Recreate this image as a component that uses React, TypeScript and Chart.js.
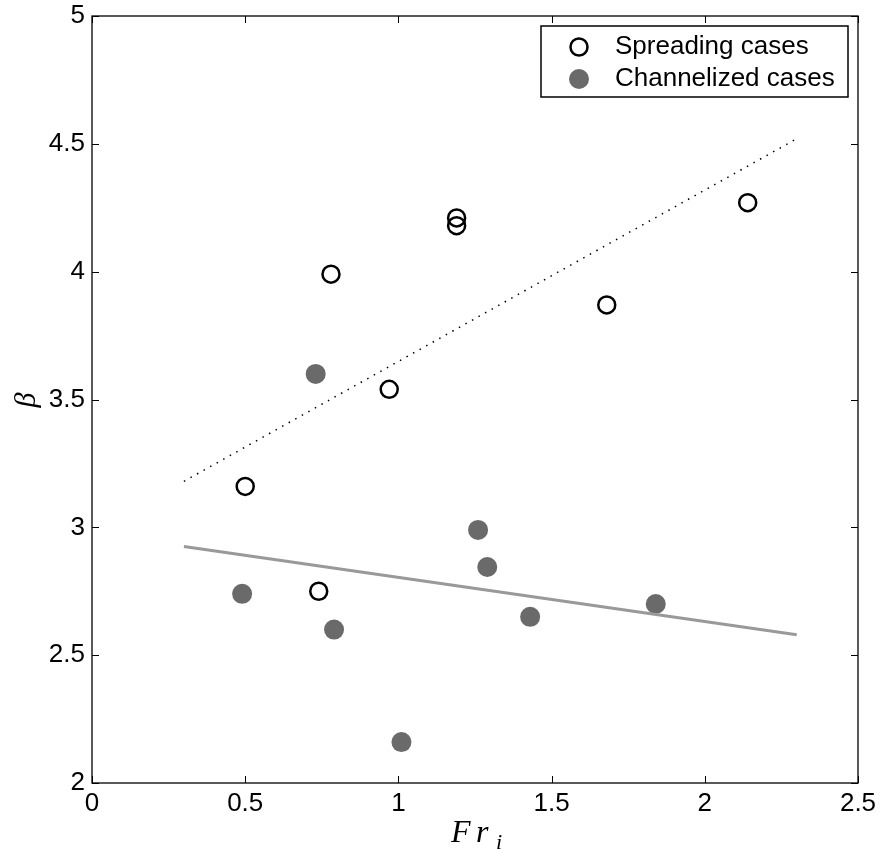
import React, { useEffect, useRef } from "react";
import { Chart, registerables } from "chart.js";

Chart.register(...registerables);

const spreadingX = [0.5, 0.74, 0.78, 0.97, 1.19, 1.19, 1.68, 2.14];
const spreadingY = [3.16, 2.75, 3.99, 3.54, 4.21, 4.18, 3.87, 4.27];
const channelX = [0.49, 0.73, 0.79, 1.01, 1.26, 1.29, 1.43, 1.84];
const channelY = [2.74, 3.6, 2.6, 2.16, 2.99, 2.845, 2.65, 2.7];
const fitSpreadX = [0.3, 2.3];
const fitSpreadY = [3.18, 4.52];
const fitChannelX = [0.3, 2.3];
const fitChannelY = [2.925, 2.58];
const xTicks = [0, 0.5, 1, 1.5, 2, 2.5];
const yTicks = [2, 2.5, 3, 3.5, 4, 4.5, 5];
const seriesLabels = ["Spreading cases", "Channelized cases"];

const FONT = '"Liberation Sans", Arial, Helvetica, sans-serif';
const SERIF = '"Liberation Serif", "DejaVu Serif", serif';

const zip = (xs: number[], ys: number[]) => xs.map((x, i) => ({ x, y: ys[i] }));

const framePlugin = {
  id: "frame",
  afterDraw(chart: any) {
    const { ctx, chartArea: a, scales } = chart;
    const xs = scales.x;
    const ys = scales.y;
    ctx.save();
    ctx.strokeStyle = "#000";
    ctx.lineWidth = 1.3;
    ctx.strokeRect(a.left, a.top, a.right - a.left, a.bottom - a.top);
    const tl = 7;
    ctx.lineWidth = 1;
    ctx.beginPath();
    xTicks.forEach((v) => {
      const px = Math.round(xs.getPixelForValue(v)) + 0.5;
      ctx.moveTo(px, a.bottom);
      ctx.lineTo(px, a.bottom - tl);
      ctx.moveTo(px, a.top);
      ctx.lineTo(px, a.top + tl);
    });
    yTicks.forEach((v) => {
      const py = Math.round(ys.getPixelForValue(v)) + 0.5;
      ctx.moveTo(a.left, py);
      ctx.lineTo(a.left + tl, py);
      ctx.moveTo(a.right, py);
      ctx.lineTo(a.right - tl, py);
    });
    ctx.stroke();

    // legend
    const lx = 541, ly = 26, lw = 307, lh = 71;
    ctx.fillStyle = "#fff";
    ctx.fillRect(lx, ly, lw, lh);
    ctx.lineWidth = 1.5;
    ctx.strokeStyle = "#000";
    ctx.strokeRect(lx, ly, lw, lh);
    ctx.font = `26px ${FONT}`;
    ctx.textBaseline = "middle";
    ctx.textAlign = "left";
    ctx.fillStyle = "#000";
    ctx.beginPath();
    ctx.arc(579, 47, 8.5, 0, Math.PI * 2);
    ctx.lineWidth = 2.5;
    ctx.strokeStyle = "#000";
    ctx.stroke();
    ctx.fillText(seriesLabels[0], 615, 47);
    ctx.beginPath();
    ctx.arc(579, 79, 10, 0, Math.PI * 2);
    ctx.fillStyle = "#6a6a6a";
    ctx.fill();
    ctx.fillStyle = "#000";
    ctx.fillText(seriesLabels[1], 615, 79);

    // axis titles
    ctx.font = `italic 32px ${SERIF}`;
    ctx.textBaseline = "alphabetic";
    ctx.fillText("F", 451, 842);
    ctx.fillText("r", 476, 842);
    ctx.font = `italic 22px ${SERIF}`;
    ctx.fillText("i", 496, 849);

    ctx.save();
    ctx.translate(27, 400);
    ctx.rotate(-Math.PI / 2);
    ctx.font = `italic 30px ${SERIF}`;
    ctx.textAlign = "center";
    ctx.textBaseline = "middle";
    ctx.fillText("β", 0, 0);
    ctx.restore();
    ctx.restore();
  },
};

export default function App() {
  const ref = useRef<HTMLCanvasElement>(null);
  useEffect(() => {
    document.body.style.margin = "0";
    const chart = new Chart(ref.current!, {
      type: "scatter",
      data: {
        datasets: [
          {
            label: "fit spreading",
            data: zip(fitSpreadX, fitSpreadY),
            showLine: true,
            borderColor: "#000",
            borderWidth: 1.5,
            borderDash: [1.5, 6],
            pointRadius: 0,
            order: 0,
          } as any,
          {
            label: "fit channelized",
            data: zip(fitChannelX, fitChannelY),
            showLine: true,
            borderColor: "#999999",
            borderWidth: 3,
            pointRadius: 0,
            order: 0,
          } as any,
          {
            label: seriesLabels[0],
            data: zip(spreadingX, spreadingY),
            pointRadius: 8.5,
            pointBorderWidth: 2.5,
            pointBorderColor: "#000",
            pointBackgroundColor: "rgba(0,0,0,0)",
            order: 1,
          } as any,
          {
            label: seriesLabels[1],
            data: zip(channelX, channelY),
            pointRadius: 10,
            pointBorderWidth: 0,
            pointBackgroundColor: "#6a6a6a",
            order: 1,
          } as any,
        ],
      },
      options: {
        animation: false,
        responsive: false,
        devicePixelRatio: 1,
        layout: { padding: { top: 16, right: 22, left: 0, bottom: 0 } },
        plugins: { legend: { display: false }, tooltip: { enabled: false } },
        scales: {
          x: {
            type: "linear",
            min: 0,
            max: 2.5,
            afterFit: (s: any) => {
              s.height = 68;
              s.paddingLeft = 0;
              s.paddingRight = 0;
            },
            afterBuildTicks: (s: any) => {
              s.ticks = xTicks.map((v) => ({ value: v }));
            },
            grid: { display: false, drawTicks: false },
            border: { display: false },
            ticks: {
              padding: 5,
              color: "#000",
              font: { family: FONT, size: 26 },
              maxRotation: 0,
              callback: (v: any) => String(v),
            },
          },
          y: {
            type: "linear",
            min: 2,
            max: 5,
            afterFit: (s: any) => {
              s.width = 92;
              s.paddingTop = 0;
              s.paddingBottom = 0;
            },
            afterBuildTicks: (s: any) => {
              s.ticks = yTicks.map((v) => ({ value: v }));
            },
            grid: { display: false, drawTicks: false },
            border: { display: false },
            ticks: {
              padding: 7,
              color: "#000",
              font: { family: FONT, size: 26 },
              callback: (v: any) => String(v),
            },
          },
        },
      },
      plugins: [framePlugin],
    });
    return () => chart.destroy();
  }, []);
  return <canvas ref={ref} width={880} height={851} style={{ display: "block" }} />;
}
